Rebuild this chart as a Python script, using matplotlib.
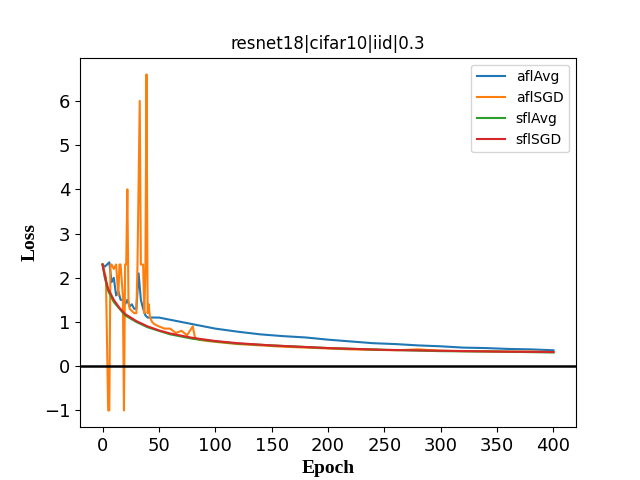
import matplotlib
matplotlib.use("Agg")
import matplotlib.pyplot as plt

# aflAvg
avg_ep = [0,2,4,6,8,10,12,14,16,18,20,22,24,26,28,30,32,34,36,38,40,45,50,60,70,80,90,100,120,140,160,180,200,220,240,260,280,300,320,340,360,380,400]
avg_val = [2.3,2.25,2.3,2.35,1.9,2.0,1.6,1.7,1.5,1.5,1.4,1.5,1.35,1.4,1.3,1.3,2.1,1.5,1.3,1.15,1.1,1.1,1.1,1.05,1.0,0.95,0.9,0.85,0.78,0.72,0.68,0.65,0.6,0.56,0.52,0.5,0.47,0.45,0.42,0.41,0.39,0.38,0.36]

# aflSGD
sgd_ep = [0,3,5,6,7,8,10,12,14,15,16,18,19,20,21,22,23,24,26,28,30,31,33,34,36,37,38,39,40,41,42,44,46,50,55,60,65,70,75,80,82,85,90,100,120,140,160,180,200,220,240,260,280,300,320,340,360,380,400]
sgd_val = [2.3,2.0,-1.0,-1.0,2.3,2.3,2.2,2.3,1.6,2.3,2.3,1.6,-1.0,2.3,2.3,4.0,1.5,1.3,1.25,1.2,1.2,2.3,6.0,2.3,2.3,1.2,2.1,6.6,1.2,1.4,1.1,1.0,0.95,0.9,0.85,0.85,0.75,0.8,0.7,0.9,0.65,0.6,0.58,0.55,0.5,0.47,0.44,0.42,0.4,0.38,0.37,0.36,0.38,0.35,0.34,0.34,0.33,0.33,0.32]

# sflAvg
savg_ep = [0,2,5,10,15,20,30,40,50,60,80,100,120,150,200,250,300,350,400]
savg_val = [2.3,2.0,1.7,1.45,1.3,1.15,1.0,0.88,0.8,0.72,0.62,0.56,0.51,0.47,0.41,0.37,0.34,0.33,0.31]

# sflSGD
ssgd_ep = [0,2,5,10,15,20,30,40,50,60,80,100,120,150,200,250,300,350,400]
ssgd_val = [2.3,2.05,1.75,1.5,1.32,1.18,1.02,0.9,0.81,0.74,0.64,0.57,0.52,0.47,0.41,0.37,0.35,0.33,0.32]

fig, ax = plt.subplots(figsize=(6.4, 4.8), dpi=100)
ax.plot(avg_ep, avg_val, label="aflAvg", color="#1f77b4")
ax.plot(sgd_ep, sgd_val, label="aflSGD", color="#ff7f0e")
ax.plot(savg_ep, savg_val, label="sflAvg", color="#2ca02c")
ax.plot(ssgd_ep, ssgd_val, label="sflSGD", color="#d62728")
ax.axhline(0, color="black", linewidth=1.8)
ax.set_title("resnet18|cifar10|iid|0.3")
ax.set_xlabel("Epoch", fontfamily="Liberation Serif", fontweight="bold", fontsize=14)
ax.set_ylabel("Loss", fontfamily="Liberation Serif", fontweight="bold", fontsize=14)
ax.tick_params(labelsize=13)
ax.set_xticks([0,50,100,150,200,250,300,350,400])
ax.legend(loc="upper right")
fig.savefig("out.png")
